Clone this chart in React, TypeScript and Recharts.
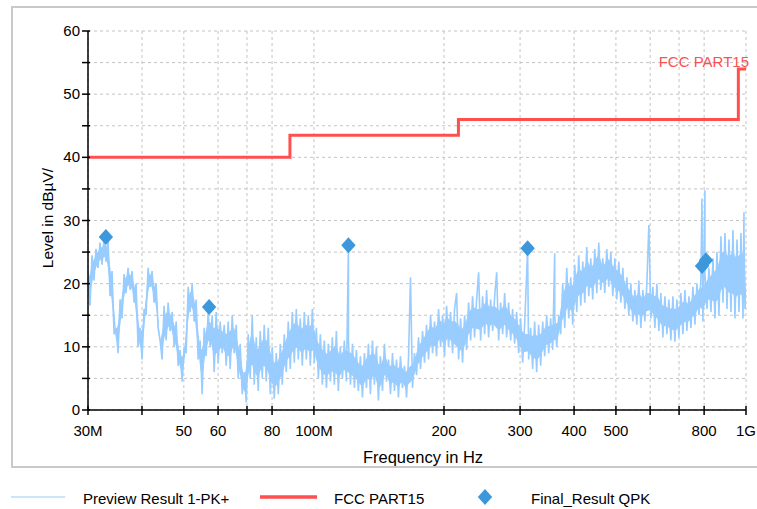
import React from 'react';
import { ComposedChart, Line, Area, Scatter, XAxis, YAxis, CartesianGrid } from 'recharts';

// Frequency axis (MHz) ticks and labels
const xTickValues = [30, 40, 50, 60, 70, 80, 100, 200, 300, 400, 500, 600, 700, 800, 1000];
const xTickText = ['30M', '', '50', '60', '', '80', '100M', '200', '300', '400', '500', '', '', '800', '1G'];

// Level axis (dBµV) ticks and labels
const yTickValues = [0, 5, 10, 15, 20, 25, 30, 35, 40, 45, 50, 55, 60];
const yTickText = ['0', '', '10', '', '20', '', '30', '', '40', '', '50', '', '60'];

// FCC PART15 limit (step after each frequency)
const limitFreq = [30, 88, 216, 960, 1000];
const limitLevel = [40, 43.5, 46, 54, 54];

// Final_Result QPK points
const qpkFreq = [33.0, 57.2, 120.2, 312.3, 791, 808];
const qpkLevel = [27.4, 16.3, 26.1, 25.6, 22.8, 23.7];

// Preview Result 1-PK+ : noise floor samples [frequency MHz, level dBµV]
const previewNoise: [number, number][] = [
  [30.00, 22.0], [30.32, 16.5], [30.65, 24.5], [30.97, 20.5], [31.31, 25.5], [31.64, 22.5], [31.98, 26.5], [32.33, 23.0],
  [32.67, 27.0], [33.02, 23.5], [33.38, 27.0], [33.74, 18.0], [34.10, 22.0], [34.47, 12.0], [34.84, 13.0], [35.21, 9.0],
  [35.59, 17.5], [35.97, 14.5], [36.35, 21.5], [36.74, 18.5], [37.14, 22.5], [37.54, 19.0], [37.94, 22.0], [38.35, 17.0],
  [38.76, 20.0], [39.17, 10.0], [39.59, 13.0], [40.02, 8.0], [40.45, 16.0], [40.88, 15.0], [41.32, 22.5], [41.76, 19.5],
  [42.21, 22.0], [42.66, 17.0], [43.12, 20.0], [43.59, 13.0], [44.05, 11.0], [44.53, 8.0], [45.00, 16.5], [45.49, 11.0],
  [45.98, 17.0], [46.47, 12.5], [46.97, 15.5], [47.48, 10.0], [47.99, 14.0], [48.50, 7.0], [49.02, 9.5], [49.55, 4.5],
  [50.08, 10.0], [50.62, 9.0], [51.16, 19.5], [51.70, 15.5], [52.26, 20.0], [52.82, 14.0], [53.39, 17.5], [53.96, 8.0],
  [54.54, 11.0], [55.12, 2.5], [55.72, 13.0], [56.31, 8.5], [56.92, 15.5], [57.53, 10.0], [58.15, 15.0], [58.77, 6.0],
  [59.40, 15.5], [60.04, 7.5], [60.69, 14.0], [61.34, 9.0], [62.00, 13.5], [62.66, 7.0], [63.33, 14.0], [64.01, 6.5],
  [64.70, 15.0], [65.39, 9.0], [66.09, 13.5], [66.80, 5.0], [67.52, 10.5], [68.24, 2.5], [68.98, 6.0], [69.72, 1.2],
  [70.46, 12.0], [71.22, 5.0], [71.98, 15.0], [72.76, 4.0], [73.54, 11.5], [74.32, 3.0], [75.12, 12.5], [75.93, 5.0],
  [76.74, 13.5], [77.57, 4.5], [78.40, 13.0], [79.24, 2.5], [80.09, 10.0], [80.95, 1.8], [81.82, 9.0], [82.70, 2.5],
  [83.59, 10.5], [84.48, 4.0], [85.39, 12.0], [86.31, 6.0], [87.23, 14.0], [88.17, 6.5], [89.12, 15.5], [90.07, 7.5],
  [91.04, 16.0], [92.01, 8.0], [93.00, 14.5], [94.00, 7.0], [95.01, 15.5], [96.03, 8.0], [97.06, 15.0], [98.10, 7.0],
  [99.15, 16.0], [100.2, 7.5], [101.3, 13.0], [102.4, 5.0], [103.5, 12.0], [104.6, 4.0], [105.7, 11.0], [106.9, 3.5],
  [108.0, 10.5], [109.2, 4.5], [110.3, 11.5], [111.5, 4.0], [112.7, 12.5], [113.9, 3.0], [115.1, 10.0], [116.4, 5.0],
  [117.6, 11.0], [118.9, 4.5], [120.2, 11.0], [121.5, 4.0], [122.8, 10.5], [124.1, 3.5], [125.4, 9.5], [126.7, 3.0],
  [128.1, 8.5], [129.5, 2.0], [130.9, 9.0], [132.3, 3.5], [133.7, 10.5], [135.1, 2.5], [136.6, 11.0], [138.0, 4.0],
  [139.5, 10.0], [141.0, 1.5], [142.5, 8.5], [144.1, 3.0], [145.6, 10.5], [147.2, 4.5], [148.8, 8.0], [150.4, 2.5],
  [152.0, 9.0], [153.6, 3.0], [155.3, 8.0], [156.9, 2.0], [158.6, 8.5], [160.3, 3.5], [162.0, 7.0], [163.8, 2.0],
  [165.5, 8.0], [169.1, 3.5], [170.9, 9.0], [172.8, 5.5], [174.6, 11.5], [176.5, 6.5], [178.4, 12.5],
  [180.3, 7.5], [182.2, 13.5], [184.2, 8.0], [186.2, 15.0], [188.2, 9.0], [190.2, 14.0], [192.2, 8.5], [194.3, 16.0],
  [196.4, 10.0], [198.5, 15.0], [200.6, 8.5], [202.8, 16.5], [204.9, 10.0], [207.1, 15.5], [209.4, 9.0], [211.6, 16.0],
  [216.2, 8.0], [218.5, 14.5], [220.8, 7.5], [223.2, 15.0], [225.6, 9.5], [228.0, 17.0], [230.5, 11.0],
  [232.9, 18.0], [235.4, 11.5], [238.0, 17.5], [243.1, 11.0], [245.7, 18.0], [248.4, 12.0], [251.0, 19.0],
  [253.7, 11.5], [256.4, 17.5], [259.2, 12.5], [262.0, 18.0], [267.6, 11.0], [270.5, 17.0], [273.4, 12.0],
  [276.3, 18.5], [279.3, 11.5], [282.2, 17.0], [285.3, 11.0], [288.3, 16.0], [291.4, 10.5], [294.5, 15.5], [297.7, 9.0],
  [300.9, 14.5], [304.1, 7.5], [307.4, 13.5], [314.0, 8.0], [317.4, 13.0], [320.8, 6.5], [324.2, 14.0],
  [327.7, 6.0], [331.2, 13.5], [334.8, 7.0], [338.4, 14.0], [342.0, 8.5], [345.7, 15.0], [349.4, 9.0], [353.1, 14.5],
  [356.9, 9.5], [360.8, 15.0], [364.7, 10.0], [368.6, 15.0], [372.5, 12.0], [376.5, 20.0], [380.6, 13.0], [384.7, 22.5],
  [388.8, 14.5], [393.0, 21.0], [397.2, 13.5], [401.5, 23.0], [405.8, 15.5], [410.1, 24.5], [414.5, 16.5], [419.0, 23.5],
  [423.5, 17.0], [428.0, 25.8], [432.6, 18.0], [437.2, 24.0], [441.9, 17.5], [446.7, 25.5], [451.5, 18.5], [456.3, 26.5],
  [461.2, 19.0], [466.2, 24.0], [471.2, 18.5], [476.2, 25.5], [481.3, 19.5], [486.5, 25.0], [491.7, 18.0], [497.0, 24.0],
  [502.3, 17.5], [507.7, 23.5], [513.2, 17.0], [518.7, 22.5], [524.3, 16.0], [529.9, 21.0], [535.5, 15.0], [541.3, 20.0],
  [547.1, 14.0], [553.0, 19.0], [558.9, 13.5], [564.9, 20.5], [571.0, 13.0], [577.1, 19.0], [583.3, 14.0], [589.6, 20.0],
  [602.3, 14.5], [608.8, 19.5], [615.3, 13.0], [621.9, 20.0], [628.5, 12.5], [635.3, 18.5], [642.1, 11.5],
  [649.0, 18.0], [655.9, 12.0], [663.0, 17.5], [670.1, 11.0], [677.3, 18.0], [684.5, 10.8], [691.9, 17.5], [699.3, 11.5],
  [706.8, 18.5], [714.4, 12.0], [722.1, 19.0], [729.8, 12.5], [737.7, 18.0], [745.6, 13.0], [753.6, 19.5], [761.7, 13.5],
  [769.9, 20.0], [778.1, 15.0], [786.5, 21.0], [794.9, 14.0], [803.5, 21.5], [812.1, 16.0], [820.8, 22.5],
  [829.6, 15.5], [838.5, 24.0], [847.5, 14.5], [856.6, 25.0], [865.8, 15.0], [875.1, 27.5], [884.5, 17.0], [894.0, 28.0],
  [903.6, 16.0], [913.2, 27.0], [923.0, 15.5], [932.9, 28.5], [942.9, 14.5], [953.1, 27.0], [963.3, 15.5], [973.6, 28.0],
  [984.1, 14.5], [989.3, 28.5], [994.6, 16.0], [1000, 19.0],
];

// Preview Result 1-PK+ : narrow spikes [frequency MHz, level dBµV]
const previewSpikes: [number, number][] = [
  [120.2, 26.0], [167.3, 21.0], [213.9, 18.5], [240.5, 21.8], [264.8, 21.8], [312.3, 25.5],
  [360.8, 24.8], [595.9, 29.3], [790.7, 33.5], [803.5, 34.8], [989.3, 31.3],
];

const FONT = '"Liberation Sans", Arial, Helvetica, sans-serif';
const TRACE = '#99ccff';
const LIMIT = '#ff4f4f';
const QPK = '#3d97db';

// merged trace for the line (sorted by frequency; spike drawn before noise sample at same frequency)
const previewData = [
  ...previewSpikes.map(([f, v]) => ({ f, v, s: 0 })),
  ...previewNoise.map(([f, v]) => ({ f, v, s: 1 })),
]
  .sort((a, b) => a.f - b.f || a.s - b.s)
  .map(({ f, v }) => ({ f, v }));

// solid core of the band between the alternating peaks and valleys (edges keep the jagged trace)
const INSET = 0.25;
const bandData = previewNoise.map(([f, v], i) => {
  const prev = previewNoise[i - 1] ? previewNoise[i - 1][1] : previewNoise[i + 1][1];
  const next = previewNoise[i + 1] ? previewNoise[i + 1][1] : previewNoise[i - 1][1];
  const mid = (prev + next) / 2;
  const lo = Math.min(v, mid);
  const hi = Math.max(v, mid);
  const d = (hi - lo) * INSET;
  return { f, band: [lo + d, hi - d] };
});

const limitData = limitFreq.map((f, i) => ({ f, v: limitLevel[i] }));
const qpkData = qpkFreq.map((f, i) => ({ f, v: qpkLevel[i] }));

const XTick = (props: any) => {
  const { x, y, payload } = props;
  const i = xTickValues.indexOf(payload.value);
  const label = i >= 0 ? xTickText[i] : '';
  return (
    <g>
      <line x1={x} x2={x} y1={y - 4} y2={y + 5} stroke="#000" strokeWidth={1.5} />
      {label ? (
        <text x={x} y={y + 26} textAnchor="middle" fontSize={15} fontFamily={FONT} fill="#000">
          {label}
        </text>
      ) : null}
    </g>
  );
};

const YTick = (props: any) => {
  const { x, y, payload } = props;
  const i = yTickValues.indexOf(payload.value);
  const label = i >= 0 ? yTickText[i] : '';
  return (
    <g>
      <line x1={x - 6} x2={x + 2} y1={y} y2={y} stroke="#000" strokeWidth={1.5} />
      {label ? (
        <text x={x - 8} y={y + 5} textAnchor="end" fontSize={15} fontFamily={FONT} fill="#000">
          {label}
        </text>
      ) : null}
    </g>
  );
};

const Diamond = (props: any) => {
  const { cx, cy } = props;
  const rx = 7.2;
  const ry = 8;
  return (
    <polygon
      points={`${cx},${cy - ry} ${cx + rx},${cy} ${cx},${cy + ry} ${cx - rx},${cy}`}
      fill={QPK}
    />
  );
};

export default function App() {
  return (
    <div
      style={{
        position: 'absolute',
        left: 0,
        top: 0,
        width: 757,
        height: 509,
        overflow: 'hidden',
        background: '#fff',
        fontFamily: FONT,
      }}
    >
      <div
        style={{
          position: 'absolute',
          left: 11,
          top: 6,
          width: 800,
          height: 462,
          border: '2px solid #c9c9c9',
          boxSizing: 'border-box',
        }}
      />
      <div style={{ position: 'absolute', left: 0, top: 0 }}>
        <ComposedChart
          width={757}
          height={509}
          margin={{ top: 31, right: 11, bottom: 69, left: 48 }}
        >
          <CartesianGrid stroke="#c4c4c4" strokeDasharray="3 3" />
          <XAxis
            dataKey="f"
            type="number"
            scale="log"
            domain={[30, 1000]}
            ticks={xTickValues}
            interval={0}
            allowDataOverflow
            height={30}
            tickSize={0}
            tickMargin={0}
            tickLine={false}
            axisLine={{ stroke: '#000', strokeWidth: 1.5 }}
            tick={<XTick />}
          />
          <YAxis
            type="number"
            domain={[0, 60]}
            ticks={yTickValues}
            interval={0}
            allowDataOverflow
            width={40}
            tickSize={0}
            tickMargin={0}
            tickLine={false}
            axisLine={{ stroke: '#000', strokeWidth: 1.5 }}
            tick={<YTick />}
          />
          <Area
            data={bandData}
            dataKey="band"
            type="linear"
            stroke="none"
            fill={TRACE}
            fillOpacity={1}
            dot={false}
            activeDot={false}
            isAnimationActive={false}
          />
          <Line
            data={previewData}
            dataKey="v"
            type="linear"
            stroke={TRACE}
            strokeWidth={1.6}
            dot={false}
            activeDot={false}
            isAnimationActive={false}
          />
          <Line
            data={limitData}
            dataKey="v"
            type="stepAfter"
            stroke={LIMIT}
            strokeWidth={3}
            dot={false}
            activeDot={false}
            isAnimationActive={false}
          />
          <Scatter data={qpkData} dataKey="v" shape={<Diamond />} isAnimationActive={false} />
        </ComposedChart>
      </div>

      <div
        style={{
          position: 'absolute',
          left: 749,
          top: 61,
          transform: 'translate(-100%, -50%)',
          color: LIMIT,
          fontSize: 15,
          whiteSpace: 'nowrap',
        }}
      >
        FCC PART15
      </div>

      <div
        style={{
          position: 'absolute',
          left: 48,
          top: 218,
          transform: 'translate(-50%, -50%) rotate(-90deg)',
          fontSize: 15.5,
          whiteSpace: 'nowrap',
          color: '#000',
        }}
      >
        Level in dBµV/
      </div>

      <div
        style={{
          position: 'absolute',
          left: 423,
          top: 457,
          transform: 'translate(-50%, -50%)',
          fontSize: 16.5,
          whiteSpace: 'nowrap',
          color: '#000',
        }}
      >
        Frequency in Hz
      </div>

      <svg style={{ position: 'absolute', left: 0, top: 480 }} width={757} height={30}>
        <line x1={11} x2={65} y1={17} y2={17} stroke={TRACE} strokeWidth={1.2} />
        <line x1={260} x2={317} y1={17} y2={17} stroke={LIMIT} strokeWidth={3.5} />
        <polygon points="485,9 492.2,17 485,25 477.8,17" fill={QPK} />
      </svg>
      <div style={{ position: 'absolute', left: 83, top: 498, transform: 'translateY(-50%)', fontSize: 15, whiteSpace: 'nowrap' }}>
        Preview Result 1-PK+
      </div>
      <div style={{ position: 'absolute', left: 334, top: 498, transform: 'translateY(-50%)', fontSize: 15, whiteSpace: 'nowrap' }}>
        FCC PART15
      </div>
      <div style={{ position: 'absolute', left: 531, top: 498, transform: 'translateY(-50%)', fontSize: 15, whiteSpace: 'nowrap' }}>
        Final_Result QPK
      </div>
    </div>
  );
}
